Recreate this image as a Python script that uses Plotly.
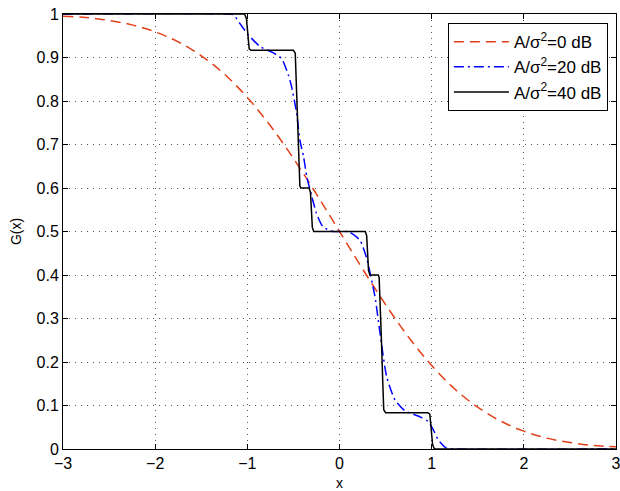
import plotly.graph_objects as go

# Red dashed curve: A/sigma^2 = 0 dB
x_red = [-3, -2.75, -2.5, -2.25, -2, -1.75, -1.5, -1.25, -1, -0.75, -0.5, -0.25, 0,
         0.25, 0.5, 0.75, 1, 1.25, 1.5, 1.75, 2, 2.25, 2.5, 2.75, 3]
g_red = [0.995, 0.992, 0.985, 0.975, 0.959, 0.936, 0.904, 0.862, 0.808, 0.743, 0.668, 0.586, 0.5,
         0.414, 0.332, 0.257, 0.192, 0.138, 0.096, 0.064, 0.041, 0.025, 0.015, 0.008, 0.005]

# Blue dash-dot curve: A/sigma^2 = 20 dB
x_blue = [-3, -1.2, -1.15, -1.08, -0.99, -0.86, -0.74, -0.63, -0.555, -0.52, -0.465, -0.43,
          -0.39, -0.355, -0.30, -0.25, -0.18, -0.07, 0, 0.07, 0.114, 0.222, 0.295, 0.385,
          0.44, 0.512, 0.602, 0.71, 0.873, 0.964, 1.018, 1.072, 1.16, 1.25, 3]
g_blue = [1, 1, 0.998, 0.978, 0.952, 0.925, 0.913, 0.898, 0.86, 0.833, 0.772, 0.71,
          0.672, 0.626, 0.58, 0.542, 0.511, 0.5, 0.5, 0.5, 0.498, 0.48, 0.438, 0.35,
          0.266, 0.166, 0.113, 0.088, 0.074, 0.063, 0.044, 0.021, 0.002, 0, 0]

# Black solid curve: A/sigma^2 = 40 dB
x_black = [-3, -1.03, -1.01, -0.995, -0.98, -0.96, -0.50, -0.48, -0.47, -0.455, -0.44, -0.43,
           -0.42, -0.33, -0.315, -0.305, -0.295, -0.28, 0.28, 0.295, 0.305, 0.315, 0.33,
           0.42, 0.43, 0.44, 0.455, 0.47, 0.48, 0.50, 0.96, 0.98, 0.995, 1.01, 1.03, 3]
g_black = [1, 1, 0.99, 0.95, 0.92, 0.9167, 0.9167, 0.91, 0.85, 0.75, 0.65, 0.605,
           0.6, 0.6, 0.59, 0.55, 0.51, 0.5, 0.5, 0.49, 0.45, 0.41, 0.4,
           0.4, 0.395, 0.35, 0.25, 0.15, 0.09, 0.0833, 0.0833, 0.08, 0.05, 0.01, 0, 0]

labels = ["A/σ<sup>2</sup>=0 dB", "A/σ<sup>2</sup>=20 dB", "A/σ<sup>2</sup>=40 dB"]

x_ticks = [-3, -2, -1, 0, 1, 2, 3]
y_ticks = [0, 0.1, 0.2, 0.3, 0.4, 0.5, 0.6, 0.7, 0.8, 0.9, 1]

FONT = "Liberation Sans, Arial, sans-serif"

fig = go.Figure()
fig.add_trace(go.Scatter(x=x_red, y=g_red, mode="lines", name=labels[0],
                         line=dict(color="#e2401a", width=1.5, dash="10px,6px", shape="spline")))
fig.add_trace(go.Scatter(x=x_blue, y=g_blue, mode="lines", name=labels[1],
                         line=dict(color="#0000ff", width=1.5, dash="10px,4px,2px,4px",
                                   shape="spline", smoothing=0.6)))
fig.add_trace(go.Scatter(x=x_black, y=g_black, mode="lines", name=labels[2],
                         line=dict(color="#000000", width=1.5)))

axis_common = dict(
    showline=True, linecolor="black", linewidth=1, mirror="ticks",
    ticks="inside", ticklen=5, tickcolor="black",
    showgrid=True, gridcolor="#555555", griddash="1px,5px", gridwidth=1,
    zeroline=False, automargin=False, ticklabeloverflow="allow",
    tickfont=dict(family=FONT, size=16, color="black"),
)

fig.update_xaxes(range=[-3, 3], tickvals=x_ticks,
                 ticktext=[str(t).replace("-", "−") for t in x_ticks],
                 title=dict(text="x", font=dict(family=FONT, size=14, color="black"), standoff=8),
                 **axis_common)
fig.update_yaxes(range=[0, 1], tickvals=y_ticks,
                 ticktext=["0", "0.1", "0.2", "0.3", "0.4", "0.5", "0.6", "0.7", "0.8", "0.9", "1"],
                 title=dict(text="G(x)", font=dict(family=FONT, size=14, color="black"), standoff=11),
                 **axis_common)

fig.update_layout(
    width=620, height=491,
    margin=dict(l=63, r=4, t=14, b=42),
    paper_bgcolor="white", plot_bgcolor="white",
    font=dict(family=FONT, size=14, color="black"),
    legend=dict(x=0.696, y=0.979, xanchor="left", yanchor="top",
                bgcolor="white", bordercolor="black", borderwidth=1,
                font=dict(family=FONT, size=17), tracegroupgap=0, itemwidth=55),
    showlegend=True,
)

fig.write_html("out.html", config={"displayModeBar": False},
               post_script="document.body.style.margin='0';document.body.style.padding='0';")
